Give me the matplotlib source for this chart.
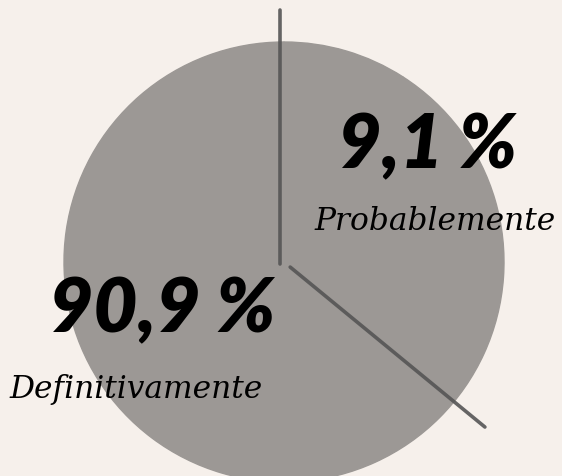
import numpy as np
import matplotlib.pyplot as plt

# ============================================================
# Data
# ============================================================
labels = ["Probablemente", "Definitivamente"]
shares = [9.1, 90.9]
share_text = ["9,1 %", "90,9 %"]

# ============================================================
# Style
# ============================================================
BG = "#f6f0eb"
PIE_GREY = "#9c9895"
LINE_GREY = "#555555"

W, H = 562, 477
CENTER = (284, 263)
RADIUS = 220

fig = plt.figure(figsize=(W / 100, H / 100), dpi=100)
fig.patch.set_facecolor(BG)
ax = fig.add_axes([0, 0, 1, 1])
ax.set_facecolor(BG)

# pie, both wedges in the same grey
wedges, _ = ax.pie(
    shares,
    center=CENTER,
    radius=RADIUS,
    colors=[PIE_GREY, PIE_GREY],
    startangle=-90,
    wedgeprops=dict(linewidth=1.0, edgecolor=PIE_GREY),
    frame=True,
)
ax.set_xlim(0, W)
ax.set_ylim(H, 0)
ax.set_aspect("equal")
ax.axis("off")

# hand drawn divider strokes: origin, screen angle (deg, y up), start / end distance
dividers = [((280, 265), 90.0, 0, 254), ((284, 263), -39.4, 8, 260)]
for (ox, oy), ang, r0, r1 in dividers:
    a = np.deg2rad(ang)
    xs = [ox + r0 * np.cos(a), ox + r1 * np.cos(a)]
    ys = [oy - r0 * np.sin(a), oy - r1 * np.sin(a)]
    ax.plot(xs, ys, color=LINE_GREY, linewidth=2.6, solid_capstyle="round", alpha=0.9)

num_font = dict(family="Lato", weight="heavy", style="italic", color="black")
script_font = dict(family="DejaVu Serif", style="italic", weight="light", color="black")

# small slice
ax.text(428, 168, share_text[0], fontsize=54, ha="center", va="baseline", **num_font)
ax.text(435, 230, labels[0], fontsize=22.5, ha="center", va="baseline", **script_font)

# big slice
ax.text(162, 332, share_text[1], fontsize=55, ha="center", va="baseline", **num_font)
ax.text(136, 398, labels[1], fontsize=22.5, ha="center", va="baseline", **script_font)

plt.savefig("out.png", dpi=100, facecolor=BG)
plt.close(fig)
